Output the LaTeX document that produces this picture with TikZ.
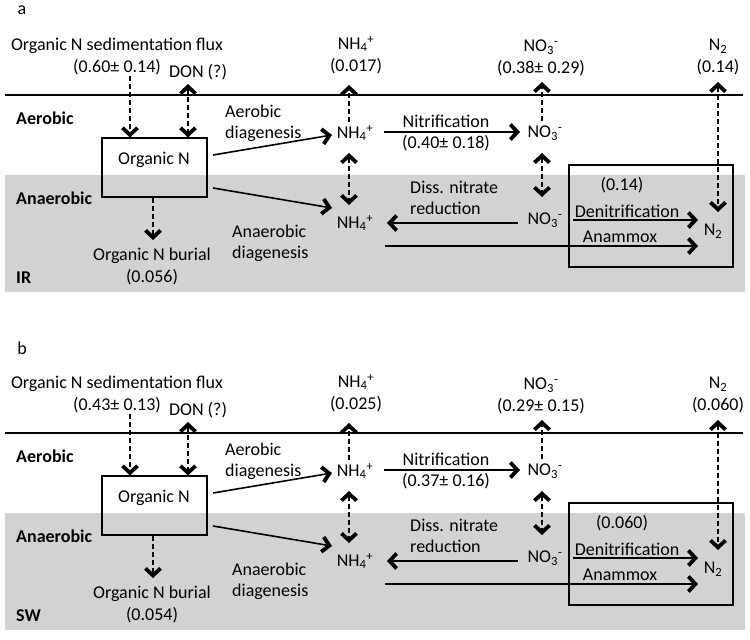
\documentclass[tikz,border=0pt]{standalone}
\usepackage{fontspec}
\setmainfont{Carlito}
\usetikzlibrary{arrows.meta}
\definecolor{bgray}{RGB}{210,210,210}
\tikzset{
  x=1pt, y=-1pt,
  >={Straight Barb[length=7pt,width=15pt,line width=3.8pt]},
  txt/.style={inner sep=0pt, font=\fontsize{18}{22}\selectfont, align=center},
  ltxt/.style={inner sep=0pt, font=\fontsize{18}{21}\selectfont, align=left, anchor=west},
  bld/.style={inner sep=0pt, font=\fontsize{18}{22}\selectfont\bfseries, anchor=west},
  flow/.style={line width=1.6pt, ->},
  dflow/.style={line width=1.3pt, dash pattern=on 5pt off 3pt, ->},
  ddflow/.style={line width=1.3pt, dash pattern=on 5pt off 3pt, <->},
  surf/.style={line width=2pt},
  frame/.style={draw, line width=1.1pt, inner sep=0pt},
}
\newcommand{\npanel}[9]{%
  \fill[bgray] (5,175) rectangle (745,292);
  \node[txt] (#1lab) at (22,10) {#1};
  \node[txt] (#1flux) at (117,56) {Organic N sedimentation flux\\#2};
  \node[txt] (#1don) at (198,72) {DON (?)};
  \coordinate (#1sl) at (5,95);
  \coordinate (#1sr) at (743,95);
  \draw[surf] (#1sl) -- (#1sr);
  \node[bld] (#1aer) at (16,118) {Aerobic};
  \node[bld] (#1ana) at (16,198) {Anaerobic};
  \node[bld] (#1site) at (16,278) {#9};
  % organic N box
  \node[frame, minimum width=105pt, minimum height=59pt] (#1box) at (154.5,167.5) {};
  \node[txt] (#1org) at (154,160) {Organic N};
  % burial
  \node[txt] (#1bur) at (152,266) {Organic N burial\\#8};
  \coordinate (#1bx) at (153,0);
  \draw[dflow] (#1bx |- #1box.south) -- (153,240) coordinate (#1bend);
  % flux arrow
  \coordinate (#1fx) at (130,0);
  \draw[dflow] (130,76) coordinate (#1fstart) -- (#1fx |- #1box.north);
  % DON arrow
  \coordinate (#1dx) at (188,0);
  \draw[ddflow] (188,84) coordinate (#1dtop) -- (#1dx |- #1box.north);
  % NH4 top
  \node[txt] (#1nh4t) at (356,55) {NH\textsubscript{4}\textsuperscript{+}\\#3};
  % NO3 top
  \node[txt] (#1no3t) at (541,58) {NO\textsubscript{3}\textsuperscript{-}\\#4};
  % N2 top
  \node[txt] (#1n2t) at (718,57) {N\textsubscript{2}\\#5};
  % aerobic NH4, NO3
  \node[txt] (#1nh4a) at (355,133) {NH\textsubscript{4}\textsuperscript{+}};
  \node[txt] (#1no3a) at (545,133) {NO\textsubscript{3}\textsuperscript{-}};
  % anaerobic NH4, NO3, N2
  \node[txt] (#1nh4b) at (355,223) {NH\textsubscript{4}\textsuperscript{+}};
  \node[txt] (#1no3b) at (545,220) {NO\textsubscript{3}\textsuperscript{-}};
  \node[txt] (#1n2b) at (713,231) {N\textsubscript{2}};
  % vertical exchange arrows
  \draw[dflow] (349,122) coordinate (#1nh4up) -- (349,85) coordinate (#1nh4tip);
  \draw[dflow] (542,121) coordinate (#1no3up) -- (542,82) coordinate (#1no3tip);
  \draw[ddflow] (718,82) coordinate (#1n2tip) -- (718,212) coordinate (#1n2low);
  \draw[ddflow] (349,153) coordinate (#1nh4m1) -- (349,205) coordinate (#1nh4m2);
  \draw[ddflow] (542,153) coordinate (#1no3m1) -- (542,197) coordinate (#1no3m2);
  % diagenesis
  \node[ltxt] (#1aerd) at (225,123) {Aerobic\\diagenesis};
  \draw[flow] (213,155) coordinate (#1ad0) -- (332,135) coordinate (#1ad1);
  \node[ltxt] (#1anad) at (232,243) {Anaerobic\\diagenesis};
  \draw[flow] (213,188) coordinate (#1nd0) -- (332,208) coordinate (#1nd1);
  % nitrification
  \draw[flow] (384,132) coordinate (#1ni0) -- (520,132) coordinate (#1ni1);
  \node[txt] (#1nitl) at (446,121) {Nitrification};
  \node[txt] (#1nitv) at (446,143) {#6};
  % DNRA
  \node[ltxt] (#1dnra) at (410,197.5) {Diss. nitrate\\reduction};
  \draw[flow] (518,223) coordinate (#1dr0) -- (387,223) coordinate (#1dr1);
  % anammox and denitrification
  \draw[flow] (385,246) coordinate (#1am0) -- (698,246) coordinate (#1am1);
  \node[txt] (#1aml) at (620,237) {Anammox};
  \draw[flow] (573,220) coordinate (#1dn0) -- (698,220) coordinate (#1dn1);
  \node[txt] (#1dnl) at (627,211) {Denitrification};
  \node[txt] (#1dnv) at (622,185) {#7};
  \node[frame, minimum width=164pt, minimum height=102pt] (#1n2box) at (651,216) {};
}
\begin{document}
\begin{tikzpicture}
\useasboundingbox (0,0) rectangle (750,640);
\begin{scope}
\npanel{a}{(0.60± 0.14)}{(0.017)}{(0.38± 0.29)}{(0.14)}{(0.40± 0.18)}{(0.14)}{(0.056)}{IR}
\end{scope}
\begin{scope}[yshift=-338pt]
\npanel{b}{(0.43± 0.13)}{(0.025)}{(0.29± 0.15)}{(0.060)}{(0.37± 0.16)}{(0.060)}{(0.054)}{SW}
\end{scope}
\end{tikzpicture}
\end{document}
